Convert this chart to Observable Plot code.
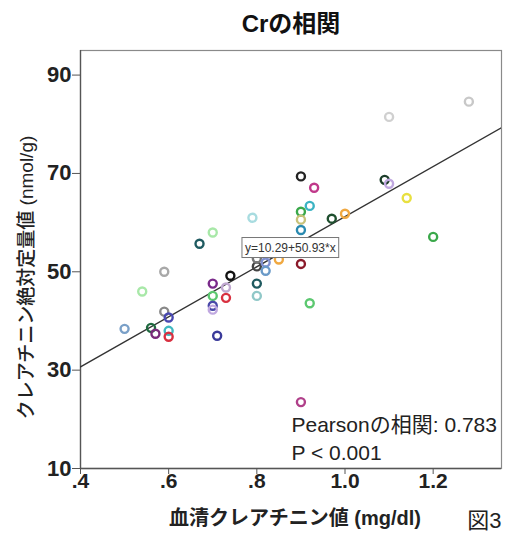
<!DOCTYPE html>
<html>
<head>
<meta charset="utf-8">
<script src="https://cdn.jsdelivr.net/npm/d3@7"></script>
<script src="https://cdn.jsdelivr.net/npm/@observablehq/plot@0.6"></script>
<style>
  html, body { margin: 0; padding: 0; background: #fff; }
  svg { font-family: "Liberation Sans", Arial, "Noto Sans CJK JP", sans-serif; }
</style>
</head>
<body>
<script>
// Serum creatinine (mg/dl)
const serumCr = [1.281, 1.10, 0.90, 0.93, 0.92, 0.90, 0.90, 0.90, 0.97, 1.00, 1.09, 1.10, 1.14, 1.20, 0.90, 0.92, 0.90,
  0.79, 0.70, 0.67, 0.74, 0.80, 0.80, 0.82, 0.82, 0.85, 0.80, 0.80, 0.70, 0.73, 0.70, 0.73, 0.70, 0.70, 0.71,
  0.59, 0.54, 0.59, 0.60, 0.50, 0.56, 0.57, 0.60, 0.60];
// Absolute creatinine (nmol/g)
const absCr = [84.6, 81.5, 69.4, 67.1, 63.4, 62.2, 60.6, 58.5, 60.8, 61.8, 68.7, 67.9, 65.0, 57.1, 51.6, 43.6, 23.5,
  61.0, 58.0, 55.7, 49.2, 51.1, 52.7, 51.9, 50.2, 52.5, 47.6, 45.1, 47.6, 46.8, 45.1, 44.7, 43.1, 42.3, 37.0,
  50.0, 46.0, 41.9, 40.7, 38.4, 38.6, 37.4, 38.0, 36.8];
const pointColors = ["#c8c8c8", "#d0d0d0", "#222222", "#c0398a", "#3bb3c3", "#3aa84a", "#c8c27a", "#2a8ab0", "#1f4f2f", "#f0a840",
  "#1c3d2a", "#c0a8e0", "#e8e040", "#3aa84a", "#8b1a2a", "#5cc870", "#b0408a",
  "#a8dce0", "#a8e8a8", "#1f5a60", "#111111", "#444444", "#777777", "#8090d0", "#6a9ac8", "#f0a840", "#1f5a60", "#90c8c8",
  "#7a2a8a", "#c0a8d0", "#5cc870", "#d83040", "#4848a8", "#c0a8e0", "#3a3a9a",
  "#a8a8a8", "#a8e8a8", "#888888", "#4848b0", "#7aa0c8", "#1f6a40", "#7a2a7a", "#40b8c0", "#d83040"];

const xTicks = [0.4, 0.6, 0.8, 1.0, 1.2];
const yTicks = [10, 30, 50, 70, 90];
const xDomain = [0.4, 1.355];
const yDomain = [10, 95];

const intercept = 10.29, slope = 50.93;
const eqLabel = "y=10.29+50.93*x";
const eqAnchorX = 0.876;
const statsText = "Pearsonの相関: 0.783\nP < 0.001";
const title = "Crの相関";
const xLabel = "血清クレアチニン値 (mg/dl)";
const yLabel = "クレアチニン絶対定量値 (nmol/g)";
const figLabel = "図3";

const points = serumCr.map((x, i) => ({x, y: absCr[i], c: pointColors[i]}));
const fitLine = xDomain.map(x => ({x, y: intercept + slope * x}));
const eqPoint = [{x: eqAnchorX, y: intercept + slope * eqAnchorX, t: eqLabel}];

const svg = Plot.plot({
  width: 505,
  height: 537,
  marginTop: 50,
  marginLeft: 80,
  marginRight: 4,
  marginBottom: 69,
  x: {domain: xDomain},
  y: {domain: yDomain},
  marks: [
    Plot.frame({stroke: "#8a8a8a", strokeWidth: 1.2}),
    Plot.ruleX([xDomain[0]], {stroke: "#555", strokeWidth: 1.3}),
    Plot.ruleY([yDomain[0]], {stroke: "#555", strokeWidth: 1.3}),
    Plot.axisX({ticks: xTicks, tickSize: 6, tickPadding: -1, fontSize: 21, fontWeight: "bold", fill: "#222", stroke: "#555",
      tickFormat: d => d < 1 ? d.toFixed(1).slice(1) : d.toFixed(1), label: null}),
    Plot.axisY({ticks: yTicks, tickSize: 8, tickPadding: 1, fontSize: 22, fontWeight: "bold", fill: "#222", stroke: "#555",
      label: null}),
    Plot.line(fitLine, {x: "x", y: "y", stroke: "#333", strokeWidth: 1.4, clip: true}),
    Plot.dot(points, {x: "x", y: "y", stroke: "c", r: 4, strokeWidth: 2.4, fill: "none"}),
    Plot.text(eqPoint, {x: "x", y: "y", text: "t", fontSize: 12, fill: "#333"}),
    Plot.text([statsText], {frameAnchor: "bottom-left", dx: 211, dy: -9, textAnchor: "start", lineAnchor: "bottom",
      lineHeight: 1.3, fontSize: 21, fill: "#222"}),
    Plot.text([title], {frameAnchor: "top", lineAnchor: "middle", dy: -26, fontSize: 24, fontWeight: "bold", fill: "#111"}),
    Plot.text([xLabel], {frameAnchor: "bottom", lineAnchor: "middle", dx: 4, dy: 50, fontSize: 20, fontWeight: "bold", fill: "#222"}),
    Plot.text([figLabel], {frameAnchor: "bottom-right", lineAnchor: "middle", textAnchor: "end", dx: 0, dy: 52, fontSize: 22, fill: "#222"}),
    Plot.text([yLabel], {frameAnchor: "left", lineAnchor: "middle", textAnchor: "middle", rotate: -90, dx: -54, dy: 18, fontSize: 19, fontWeight: 500, fill: "#222"})
  ]
});
svg.setAttribute("style", "font-family: 'Liberation Sans', Arial, 'Noto Sans CJK JP', sans-serif; background: #fff;");
document.body.append(svg);

// box behind the regression equation label
for (const t of svg.querySelectorAll("text")) {
  if (t.textContent === eqLabel) {
    const b = t.getBBox();
    const ns = "http://www.w3.org/2000/svg";
    const r = document.createElementNS(ns, "rect");
    r.setAttribute("x", b.x - 3);
    r.setAttribute("y", b.y - 3);
    r.setAttribute("width", b.width + 6);
    r.setAttribute("height", b.height + 6);
    r.setAttribute("fill", "#fff");
    r.setAttribute("stroke", "#777");
    r.setAttribute("stroke-width", "1");
    const tr = t.getAttribute("transform");
    if (tr) r.setAttribute("transform", tr);
    t.parentNode.insertBefore(r, t);
  }
}
</script>
</body>
</html>
